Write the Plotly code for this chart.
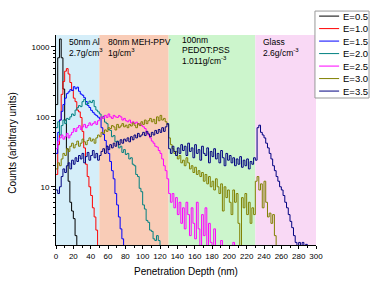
import plotly.graph_objects as go

# ---------------- data ----------------
bin_nm = 2  # histogram bin width (nm); value i covers depth i*bin_nm .. (i+1)*bin_nm

energies = ["E=0.5", "E=1.0", "E=1.5", "E=2.0", "E=2.5", "E=3.0", "E=3.5"]
colors = ["#000000", "#FF0000", "#0000FF", "#008080", "#FF00FF", "#808000", "#000080"]

counts_e05 = [150, 700, 1300, 700, 250, 90, 35, 12, 6, 4.5, 3.5, 2, 1]

counts_e10 = [15, 40, 90, 210, 320, 450, 490, 410, 310, 240, 185, 165, 125, 118, 98,
              62, 36, 21, 14, 10, 7.5, 5, 3.7, 2.4, 1]

counts_e15 = [30, 60, 90, 120, 150, 185, 215, 228, 245, 238, 270, 252, 266, 232, 212,
              204, 188, 166, 146, 136, 124, 116, 109, 104, 99, 93, 70, 56, 46, 38,
              30, 23, 17, 13, 8, 5.5, 3.7, 2.5, 1.8, 1]

counts_e20 = [70, 85, 55, 75, 90, 80, 95, 92, 100, 110, 105, 125, 135, 145, 140,
              165, 178, 150, 155, 168, 160, 172, 140, 125, 118,
              110, 96, 102, 84, 80, 66, 64, 52, 54, 44, 45, 36, 38, 31, 34, 29, 30,
              25, 26, 21, 20, 15, 14, 9.5, 8.5, 5.5, 4.8, 3.3, 3.1, 2.4, 2.3, 1.8,
              1.7, 2, 1.7, 1]

counts_e25 = [35, 45, 50, 55, 48, 52, 58, 50, 55, 60, 68, 62, 70, 75, 66, 72, 78, 70,
              75, 82, 76, 80, 85, 78, 88,
              92, 100, 95, 105, 98, 110, 100, 95, 105, 100, 98, 104, 100, 90, 95, 88,
              85, 90, 82, 85, 80, 84, 78, 80, 75,
              72, 68, 60, 55, 50, 45, 42, 38, 37, 33, 30, 25, 20, 17, 13, 8, 6, 8, 5,
              7, 4, 6, 3, 5, 2.5,
              6, 4, 2, 5, 3, 1.8, 6, 2.5, 1, 4, 2, 5, 1, 3, 1.6, 1, 2.5, 1, 1, 1, 1.7,
              1, 1, 1, 1, 1, 1, 1.6, 1, 1]

counts_e30 = [18, 22, 20, 25, 30, 28, 35, 32, 38, 42, 36, 40, 45, 38, 42, 48, 44, 40,
              46, 50, 45, 48, 42, 50, 55,
              52, 60, 58, 65, 62, 70, 68, 75, 72, 65, 78, 70, 74, 80, 72, 76, 70, 78,
              74, 82, 76, 70, 80, 75, 85,
              78, 90, 80, 88, 95, 85, 92, 80, 100, 88, 105, 90, 95, 85, 78,
              50, 40, 35, 30, 32, 25, 28, 22, 24, 20, 26, 22, 18, 20, 16, 19, 15, 17,
              14, 16, 12, 15, 11, 14, 10,
              12, 9, 13, 10, 8, 11, 4.5, 10, 7, 9, 6, 4, 9, 6, 8, 3, 1, 7, 5, 8, 4, 6,
              3, 5, 4,
              12, 14, 9, 11, 5, 12, 6, 3.7, 4.2, 3, 4, 2, 1]

counts_e35 = [9, 8, 10, 14, 18, 16, 20, 22, 18, 24, 21, 26, 23, 28, 25, 30, 22, 27, 31,
              24, 28, 33, 26, 30, 24,
              28, 32, 35, 30, 38, 34, 40, 36, 42, 38, 44, 40, 47, 42, 48, 45, 50, 44,
              52, 47, 55, 50, 58, 52, 55,
              60, 54, 62, 57, 52, 60, 55, 64, 58, 66, 60, 70, 62, 72, 80,
              35, 30, 38, 32, 28, 36, 30, 40, 33, 38, 28, 42, 32, 36, 26, 40, 30, 34,
              24, 38, 30, 28, 36, 22, 32,
              27, 35, 25, 30, 22, 33, 26, 20, 30, 24, 28, 22, 26, 20, 25, 21, 27, 19,
              24, 20, 25, 18, 23, 21, 26, 24,
              70, 76, 60, 55, 50, 42, 36, 30, 25, 20, 17, 14, 12, 10, 9, 7.5, 6, 5, 4,
              3.2, 2.6, 2, 1.6, 1, 1.6, 1, 1.6, 1, 1.5, 1]

series = [counts_e05, counts_e10, counts_e15, counts_e20, counts_e25, counts_e30, counts_e35]

layer_bounds = [0, 50, 130, 230, 300]
layer_colors = ["#D5EEF9", "#F9CCB7", "#CCF5CC", "#F9D9F5"]
layer_labels = [
    ["50nm Al", "2.7g/cm<sup>3</sup>"],
    ["80nm MEH-PPV", "1g/cm<sup>3</sup>"],
    ["100nm", "PEDOT:PSS", "1.011g/cm<sup>-3</sup>"],
    ["Glass", "2.6g/cm<sup>-3</sup>"],
]

y_tick_vals = [10, 100, 1000]
y_tick_text = ["10", "100", "1000"]

# ---------------- figure ----------------
FONT = "Arial, 'Liberation Sans', sans-serif"
fig = go.Figure()

for name, col, vals in zip(energies, colors, series):
    depth = [i * bin_nm for i in range(len(vals))]
    fig.add_trace(go.Scatter(x=depth, y=vals, mode="lines", name=name,
                             line=dict(color=col, width=1, shape="hv"),
                             showlegend=False))

# material layers shading
for x0, x1, c in zip(layer_bounds[:-1], layer_bounds[1:], layer_colors):
    fig.add_shape(type="rect", xref="x", yref="paper", x0=x0, x1=x1, y0=0, y1=1,
                  fillcolor=c, line=dict(width=0), layer="below")

# layer text
text_x = [12.7, 57.3, 143.6, 236.5]
two_line_y = [0.969, 0.915]
three_line_y = [0.976, 0.929, 0.877]
for tx, lines in zip(text_x, layer_labels):
    ys = two_line_y if len(lines) == 2 else three_line_y
    for t, ty in zip(lines, ys):
        fig.add_annotation(x=tx, y=ty, xref="x", yref="paper", text=t, showarrow=False,
                           xanchor="left", yanchor="middle",
                           font=dict(size=8.5, family=FONT, color="black"))

# axis titles
fig.add_annotation(x=0.5, y=-0.127, xref="paper", yref="paper",
                   text="Penetration Depth (nm)", showarrow=False,
                   xanchor="center", yanchor="middle",
                   font=dict(size=10, family=FONT, color="black"))
fig.add_annotation(x=-0.166, y=0.486, xref="paper", yref="paper",
                   text="Counts (arbitrary units)", showarrow=False, textangle=-90,
                   xanchor="center", yanchor="middle",
                   font=dict(size=10, family=FONT, color="black"))

# manual legend
lx0, lx1, ly0, ly1 = 0.996, 1.204, 0.700, 1.114
fig.add_shape(type="rect", xref="paper", yref="paper", x0=lx0, x1=lx1, y0=ly0, y1=ly1,
              fillcolor="white", line=dict(color="#999999", width=1))
for i, (name, col) in enumerate(zip(energies, colors)):
    yy = 1.090 - i * 0.0595
    fig.add_shape(type="line", xref="paper", yref="paper", x0=1.012, x1=1.089,
                  y0=yy, y1=yy, line=dict(color=col, width=1))
    fig.add_annotation(x=1.098, y=yy, xref="paper", yref="paper", text=name,
                       showarrow=False, xanchor="left", yanchor="middle",
                       font=dict(size=9.5, family=FONT, color="black"))

fig.update_layout(
    width=377, height=281,
    margin=dict(l=56, r=61, t=35, b=36),
    paper_bgcolor="white", plot_bgcolor="white",
    showlegend=False,
    font=dict(family=FONT, color="black", size=8),
    xaxis=dict(range=[0, 300], dtick=20, tick0=0, showgrid=False, zeroline=False,
               showline=True, linecolor="black", linewidth=1,
               ticks="outside", ticklen=3, tickwidth=1, tickcolor="black",
               tickfont=dict(size=8, family=FONT),
               minor=dict(ticks="outside", ticklen=2, dtick=10, tickcolor="black")),
    yaxis=dict(type="log", range=[0.167, 3.171], tickmode="array",
               tickvals=y_tick_vals, ticktext=y_tick_text,
               showgrid=False, zeroline=False,
               showline=True, linecolor="black", linewidth=1,
               ticks="outside", ticklen=4, tickwidth=1, tickcolor="black",
               tickfont=dict(size=8, family=FONT),
               minor=dict(ticks="outside", ticklen=2, dtick="D1", tickcolor="black")),
)

fig.write_html("out.html")
